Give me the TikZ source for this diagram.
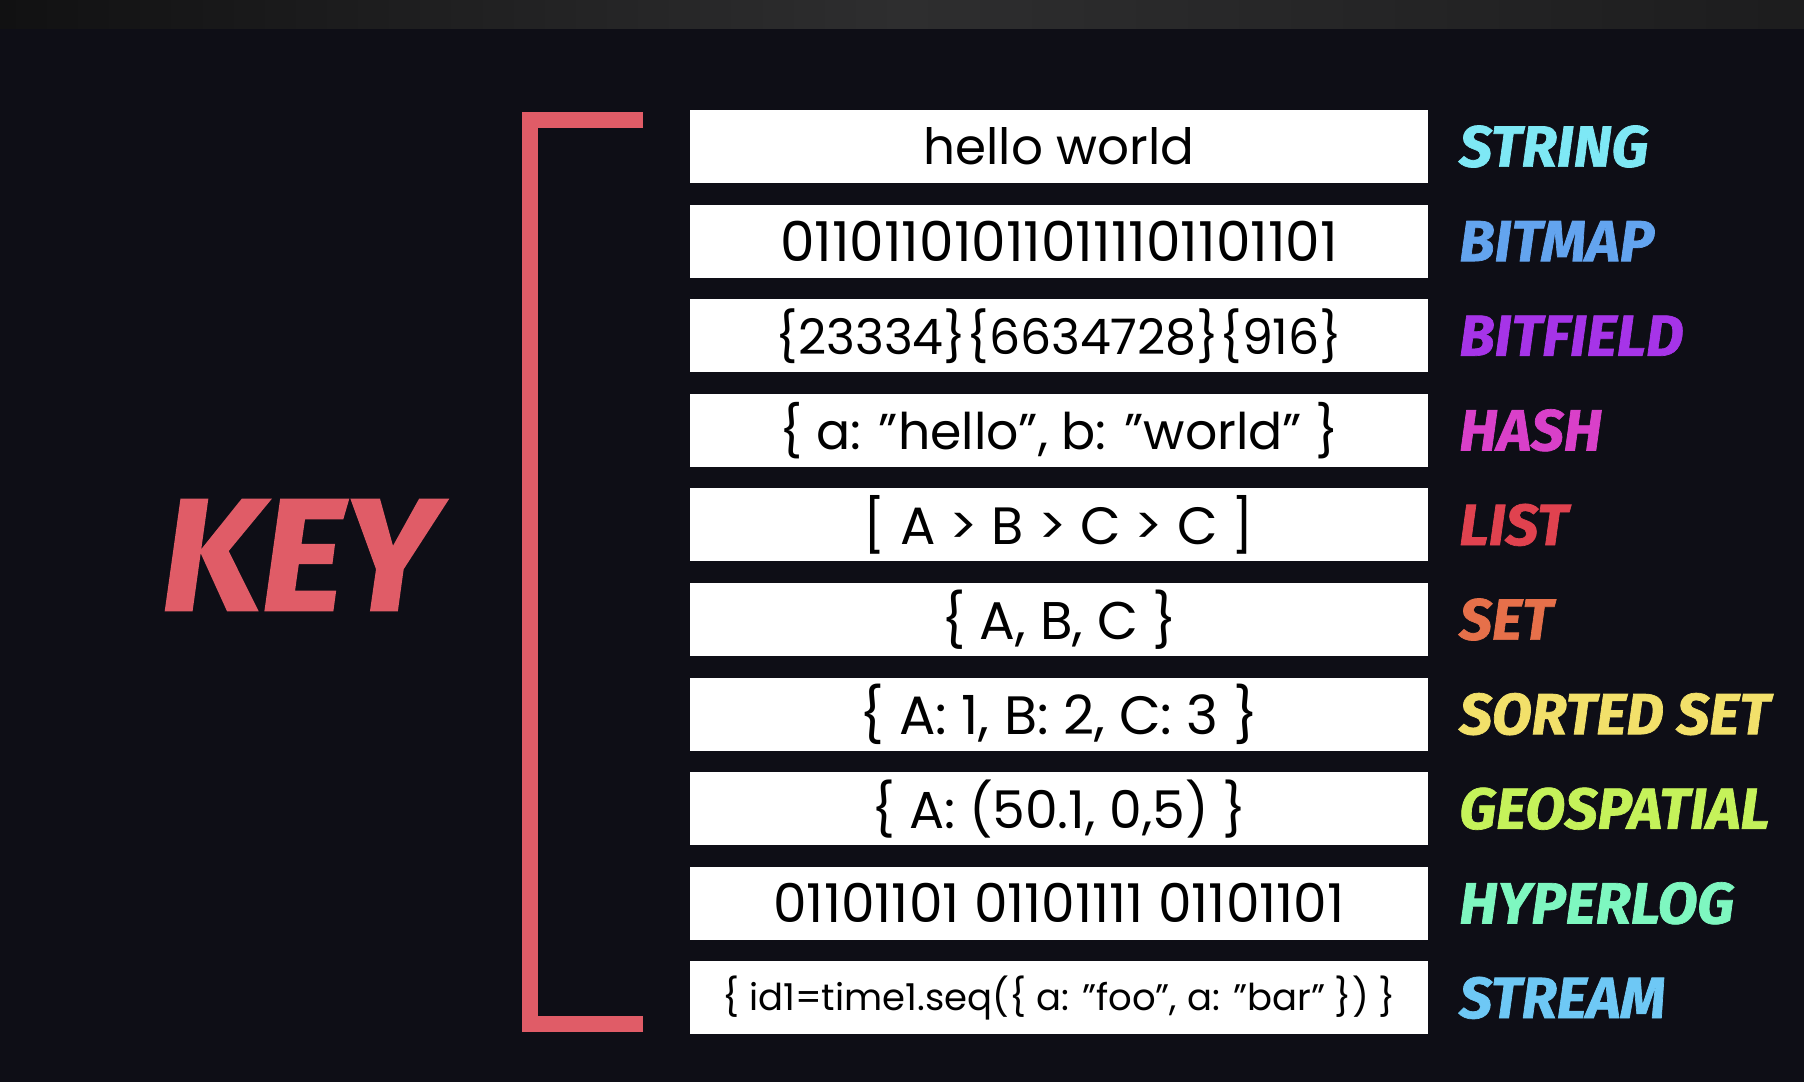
\documentclass[tikz,border=0pt]{standalone}
\usepackage{fontspec}
\setmainfont{Poppins}
\newfontfamily\heavyfont{Fira Sans}[BoldItalicFeatures={FakeBold=1.2}]
\usetikzlibrary{positioning}

\definecolor{bgdark}{HTML}{0E0E16}
\definecolor{bandgray}{HTML}{2E2E2F}
\definecolor{banddark}{HTML}{111112}
\definecolor{keyred}{HTML}{E05C67}
\definecolor{tagstring}{HTML}{7EE8F5}
\definecolor{tagbitmap}{HTML}{63A4EF}
\definecolor{tagbitfield}{HTML}{A634E8}
\definecolor{taghash}{HTML}{D940C9}
\definecolor{taglist}{HTML}{E0424F}
\definecolor{tagset}{HTML}{E6704A}
\definecolor{tagsorted}{HTML}{F2E06A}
\definecolor{taggeo}{HTML}{C5F25A}
\definecolor{taghyper}{HTML}{7EF7C0}
\definecolor{tagstream}{HTML}{6EC8F5}

\begin{document}
\begin{tikzpicture}[x=1pt,y=-1pt,node distance=21.2pt,
    valbox/.style={fill=white,text=black,minimum width=738pt,minimum height=73pt,inner sep=0pt,font=\fontsize{#1}{#1}\selectfont},
    valbox/.default=54,
    typetag/.style={inner sep=0pt,font=\heavyfont\bfseries\itshape\fontsize{58}{58}\selectfont}]
        \fill[bgdark] (0,0) rectangle (1804,1082);
        \shade[left color=banddark,right color=banddark!60!bandgray,middle color=bandgray] (0,0) rectangle (1804,28);
        \useasboundingbox (0,0) rectangle (1804,1082);

        \node[text=keyred,inner sep=0pt,font=\heavyfont\bfseries\itshape\fontsize{160}{160}\selectfont] (key) at (299,555) {KEY};

        \node[valbox=50] (str) at (1059,146.5) {hello world};
        \node[valbox=55,below=of str] (bmp) {011011010110111101101101};
        \node[valbox=49,below=of bmp] (bfd) {\{23334\}\{6634728\}\{916\}};
        \node[valbox=50.5,below=of bfd] (hsh) {\{ a: "hello", b: "world" \}};
        \node[valbox=52.5,below=of hsh] (lst) {[ A > B > C > C ]};
        \node[valbox=53,below=of lst] (set) {\{ A, B, C \}};
        \node[valbox,below=of set] (zset) {\{ A: 1, B: 2, C: 3 \}};
        \node[valbox=52,below=of zset] (geo) {\{ A: (50.1, 0,5) \}};
        \node[valbox=53.5,below=of geo] (hll) {01101101 01101111 01101101};
        \node[valbox=37,below=of hll] (strm) {\{ id1=time1.seq(\{ a: "foo", a: "bar" \}) \}};

        \node[typetag,text=tagstring,right=31pt of str] (strtag) {STRING};
        \node[typetag,text=tagbitmap,right=31pt of bmp] (bmptag) {BITMAP};
        \node[typetag,text=tagbitfield,right=31pt of bfd] (bfdtag) {BITFIELD};
        \node[typetag,text=taghash,right=31pt of hsh] (hshtag) {HASH};
        \node[typetag,text=taglist,right=31pt of lst] (lsttag) {LIST};
        \node[typetag,text=tagset,right=31pt of set] (settag) {SET};
        \node[typetag,text=tagsorted,right=31pt of zset] (zsettag) {SORTED SET};
        \node[typetag,text=taggeo,right=31pt of geo] (geotag) {GEOSPATIAL};
        \node[typetag,text=taghyper,right=31pt of hll] (hlltag) {HYPERLOG};
        \node[typetag,text=tagstream,right=31pt of strm] (strmtag) {STREAM};

        % bracket round the values
        \draw[keyred,line width=16pt] (643,120) -| (530,1024) -- (643,1024);
    \end{tikzpicture}
\end{document}
